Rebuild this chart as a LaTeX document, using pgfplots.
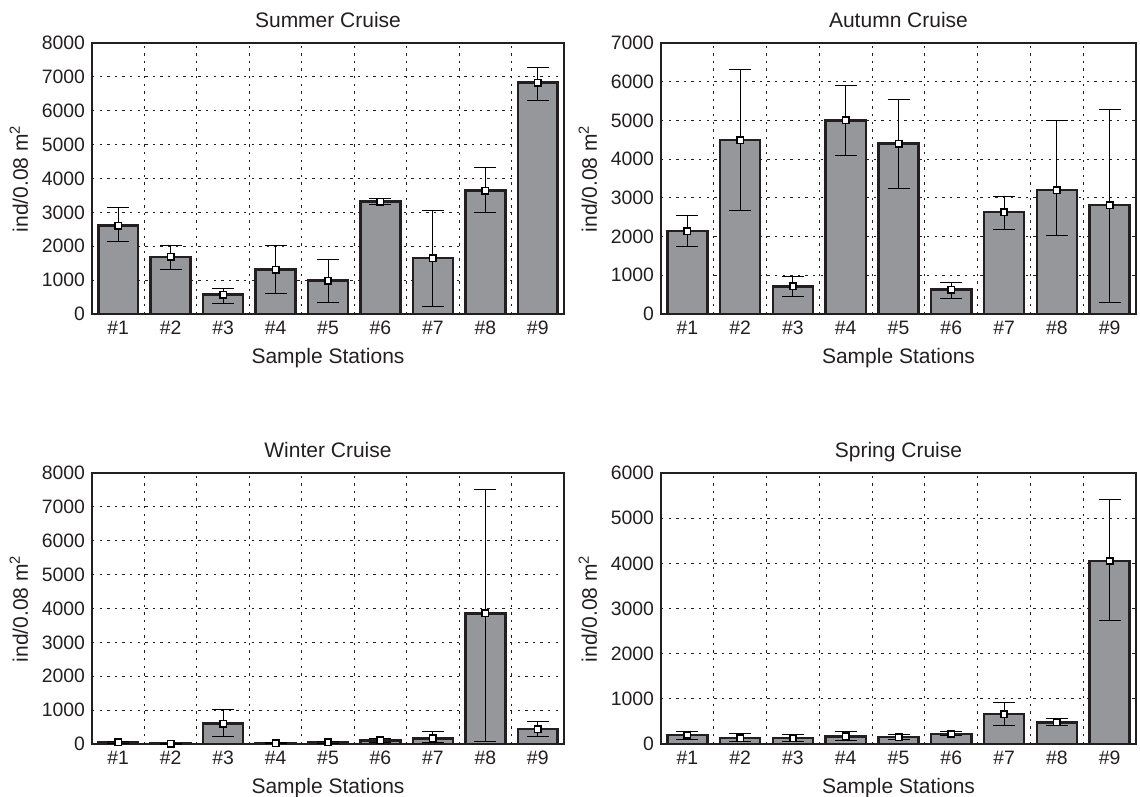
\documentclass[border=0pt]{standalone}
\usepackage{pgfplots}
\pgfplotsset{compat=1.18}
\usepackage{pgfplotstable}
\usepackage{fontspec}
\setmainfont{Liberation Sans}

\definecolor{barfill}{RGB}{150,151,155}
\definecolor{edge}{RGB}{35,31,32}

% station, mean, error up, error down
\pgfplotstableread{
x y ep em
1 2610 520 464
2 1690 330 390
3 570 188 265
4 1310 698 690
5 985 629 641
6 3315 100 97
7 1650 1401 1414
8 3640 681 638
9 6830 461 524
}\summer
\pgfplotstableread{
x y ep em
1 2140 409 409
2 4490 1823 1811
3 715 250 250
4 5000 891 909
5 4400 1147 1161
6 630 188 234
7 2630 410 451
8 3200 1804 1176
9 2810 2470 2509
}\autumn
\pgfplotstableread{
x y ep em
1 50 30 30
2 10 10 10
3 600 416 393
4 20 10 10
5 50 30 30
6 110 60 60
7 170 205 120
8 3860 3665 3800
9 440 220 220
}\winter
\pgfplotstableread{
x y ep em
1 200 81 90
2 130 107 70
3 130 84 70
4 170 111 103
5 150 50 50
6 220 54 40
7 660 265 246
8 480 75 66
9 4050 1357 1306
}\spring

\pgfplotsset{
  cruise/.style={
    scale only axis,
    anchor=south west,
    height=135.5pt,
    xmin=0.5, xmax=9.5, ymin=0,
    xtick={1,...,9},
    xticklabels={\#1,\#2,\#3,\#4,\#5,\#6,\#7,\#8,\#9},
    minor xtick={1.5,2.5,...,8.5},
    xminorgrids=true, ymajorgrids=true, xmajorgrids=false,
    major tick length=0pt, minor tick length=0pt,
    grid style={dash pattern=on 1.2pt off 2.6pt, line width=0.5pt, edge},
    minor grid style={dash pattern=on 1.2pt off 2.6pt, line width=0.5pt, edge},
    axis line style={line width=0.8pt, edge},
    /pgf/number format/assume math mode=true,
    /pgf/number format/set thousands separator={},
    tick label style={font=\fontsize{9.7}{11}\selectfont, text=edge},
    label style={font=\fontsize{10.5}{12}\selectfont, text=edge},
    title style={font=\fontsize{10.5}{12}\selectfont, text=edge,
      at={(0.5,1)}, anchor=base, yshift=2pt},
    xlabel={Sample Stations},
    ylabel={ind/0.08 m\textsuperscript{2}},
  },
  bars/.style={ybar, bar width=0.76, fill=barfill, draw=edge, line width=1.25pt,
    error bars/.cd, y dir=both, y explicit,
    error bar style={line width=0.5pt, black},
    error mark options={rotate=90, mark size=5.5pt, line width=0.5pt, black}},
  means/.style={only marks, mark=square*, mark size=1.6pt,
    mark options={fill=white, draw=black, line width=0.8pt}},
}

\begin{document}
\begin{tikzpicture}
\useasboundingbox (0,0) rectangle (570pt,-398.5pt);

\begin{axis}[cruise, at={(46pt,-157pt)}, width=236pt,
  ymax=8000, ytick={0,1000,...,8000}, title={Summer Cruise}]
\addplot[bars] table[x=x, y=y, y error plus=ep, y error minus=em]{\summer};
\addplot[means] table[x=x, y=y]{\summer};
\end{axis}

\begin{axis}[cruise, at={(330.5pt,-157pt)}, width=237.5pt,
  ymax=7000, ytick={0,1000,...,7000}, title={Autumn Cruise}]
\addplot[bars] table[x=x, y=y, y error plus=ep, y error minus=em]{\autumn};
\addplot[means] table[x=x, y=y]{\autumn};
\end{axis}

\begin{axis}[cruise, at={(46pt,-372pt)}, width=236pt,
  ymax=8000, ytick={0,1000,...,8000}, title={Winter Cruise}]
\addplot[bars] table[x=x, y=y, y error plus=ep, y error minus=em]{\winter};
\addplot[means] table[x=x, y=y]{\winter};
\end{axis}

\begin{axis}[cruise, at={(330.5pt,-372pt)}, width=237.5pt,
  ymax=6000, ytick={0,1000,...,6000}, title={Spring Cruise}]
\addplot[bars] table[x=x, y=y, y error plus=ep, y error minus=em]{\spring};
\addplot[means] table[x=x, y=y]{\spring};
\end{axis}
\end{tikzpicture}
\end{document}
